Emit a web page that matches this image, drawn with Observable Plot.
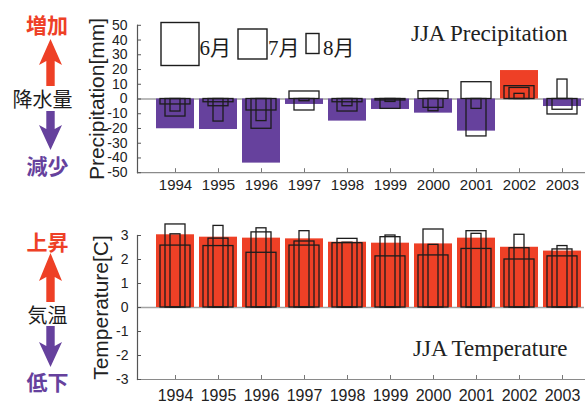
<!DOCTYPE html>
<html>
<head>
<meta charset="utf-8">
<script src="https://cdn.jsdelivr.net/npm/d3@7"></script>
<script src="https://cdn.jsdelivr.net/npm/@observablehq/plot@0.6"></script>
<style>
  body { margin: 0; background: #fff; }
  #chart { position: relative; width: 585px; height: 403px; overflow: hidden; background: #fff; }
  #chart > svg { position: absolute; left: 0; }
</style>
</head>
<body>
<div id="chart"></div>
<script>
// Summer (JJA) anomalies, 1994–2003: seasonal mean as a filled bar,
// June / July / August as nested outline boxes (wide → narrow).
const years = ["1994", "1995", "1996", "1997", "1998", "1999", "2000", "2001", "2002", "2003"];

const precipJJA = [-20.2, -20.7, -43.5, -3.7, -15.0, -7.1, -9.6, -21.8, 19.3, -5.1];
const precipJun = [-3.7, -2.2, -7.8, 5.1, -2.2, -1.0, 5.3, 11.4, 8.7, -10.5];
const precipJul = [-11.9, -4.9, -20.2, -7.8, -8.5, -6.7, -6.0, -25.4, 7.5, -7.3];
const precipAug = [-8.5, -15.3, -15.0, -1.5, -4.9, -2.0, -8.3, -6.7, 3.5, 13.2];

const tempJJA = [3.03, 2.93, 2.89, 2.86, 2.72, 2.68, 2.65, 2.89, 2.51, 2.35];
const tempJun = [2.58, 2.56, 2.28, 2.58, 2.68, 2.13, 2.17, 2.44, 2.00, 2.13];
const tempJul = [3.46, 2.87, 3.13, 2.75, 2.86, 2.93, 3.25, 3.18, 2.47, 2.42];
const tempAug = [3.05, 3.40, 3.30, 3.18, 2.70, 3.00, 2.61, 3.07, 3.03, 2.56];

const precipTicks = [-50, -40, -30, -20, -10, 0, 10, 20, 30, 40, 50];
const tempTicks = [-3, -2, -1, 0, 1, 2, 3];
const monthLabels = ["6月", "7月", "8月"];

const RED = "#ee4026";
const PURPLE = "#66419d";
const INK = "#1c1c1c";
const SANS = "'Liberation Sans', Arial, sans-serif";
const SERIF = "'Liberation Serif', 'Times New Roman', serif";
const CJK = "'Noto Sans CJK JP', 'Noto Sans CJK SC', sans-serif";

function rowsOf(jja, jun, jul, aug) {
  return years.map((year, i) => ({year, jja: jja[i], jun: jun[i], jul: jul[i], aug: aug[i]}));
}

// Band layout shared by both panels
const xScale = {type: "band", domain: years, range: [153.5, 584], paddingInner: 0.12, paddingOuter: 0.06, label: null};

function panel({rows, domain, ticks, height, marginTop, marginBottom, label, labelDx, title, titleAnchor, titleDy, xFont, xPad, yPad}) {
  const outline = (key, inset) => Plot.barY(rows, {
    x: "year", y: key, fill: "none", stroke: INK, strokeWidth: 1.3,
    insetLeft: inset, insetRight: inset
  });
  return Plot.plot({
    width: 585, height,
    marginLeft: 137, marginRight: 1, marginTop, marginBottom,
    style: {fontFamily: SANS, fontSize: "14px", color: "#222", background: "transparent"},
    x: xScale,
    y: {domain, label: null},
    marks: [
      Plot.ruleY([0], {stroke: "#a3a3a3", strokeWidth: 1.4}),
      Plot.barY(rows, {filter: d => d.jja >= 0, x: "year", y: "jja", fill: RED}),
      Plot.barY(rows, {filter: d => d.jja < 0, x: "year", y: "jja", fill: PURPLE}),
      outline("jun", 4),
      outline("jul", 9),
      outline("aug", 14),
      Plot.frame({anchor: "left", stroke: "#555", strokeWidth: 1.2}),
      Plot.frame({anchor: "bottom", stroke: "#8a8a8a", strokeWidth: 1.2}),
      Plot.axisY({ticks, tickFormat: d => String(d), tickSize: -4, tickPadding: yPad, stroke: "#555", fontSize: 14}),
      Plot.axisX({tickSize: -4, tickPadding: xPad, stroke: "#777", fontSize: xFont}),
      Plot.text([label], {
        frameAnchor: "left", rotate: -90, dx: labelDx, text: d => d,
        fontSize: 21, fontFamily: SANS, fill: "#222", textAnchor: "middle", lineAnchor: "middle"
      }),
      Plot.text([title], {
        frameAnchor: titleAnchor, dx: -17, dy: titleDy, text: d => d,
        textAnchor: "end", lineAnchor: "bottom",
        fontSize: 23, fontFamily: SERIF, fill: "#222"
      })
    ]
  });
}

const chart = document.getElementById("chart");

const precipPanel = panel({
  rows: rowsOf(precipJJA, precipJun, precipJul, precipAug),
  domain: [-50, 50], ticks: precipTicks,
  height: 200, marginTop: 24.8, marginBottom: 27.8,
  label: "Precipitation[mm]", labelDx: -40,
  title: "JJA Precipitation", titleAnchor: "top-right", titleDy: 16,
  xFont: 15, xPad: 11, yPad: 14
});
precipPanel.style.top = "0px";
chart.appendChild(precipPanel);

const tempPanel = panel({
  rows: rowsOf(tempJJA, tempJun, tempJul, tempAug),
  domain: [-3, 3], ticks: tempTicks,
  height: 203, marginTop: 35, marginBottom: 24,
  label: "Temperature[C]", labelDx: -36,
  title: "JJA Temperature", titleAnchor: "bottom-right", titleDy: -24,
  xFont: 16, xPad: 14, yPad: 13
});
tempPanel.style.top = "200px";
chart.appendChild(tempPanel);

// Side annotations (increase / decrease arrows) and the month legend
const deco = d3.create("svg")
  .attr("width", 585).attr("height", 403)
  .style("top", "0px").style("pointer-events", "none");

function arrow(cx, tipY, headY, tailY, color) {
  const dir = Math.sign(tailY - tipY);
  const hw = 11.5, sw = 4.2, notch = 4 * dir;
  const pts = [
    [cx, tipY], [cx + hw, headY + notch], [cx + sw, headY], [cx + sw, tailY],
    [cx - sw, tailY], [cx - sw, headY], [cx - hw, headY + notch]
  ];
  deco.append("polygon").attr("points", pts.map(p => p.join(",")).join(" ")).attr("fill", color);
}

function sideLabel(text, x, y, color, size, weight) {
  deco.append("text").attr("x", x).attr("y", y)
    .attr("text-anchor", "middle").attr("dominant-baseline", "central")
    .attr("font-family", CJK).attr("font-size", size).attr("font-weight", weight)
    .attr("fill", color).text(text);
}

sideLabel("増加", 47, 24, RED, 21, 700);
arrow(50.5, 39, 61, 86, RED);
sideLabel("降水量", 42.5, 98, "#1c1c1c", 20, 400);
arrow(50.5, 150, 129, 111, PURPLE);
sideLabel("減少", 47.5, 165, PURPLE, 21, 700);

sideLabel("上昇", 47.5, 241, RED, 21, 700);
arrow(50.5, 253, 277, 302, RED);
sideLabel("気温", 47.5, 314, "#1c1c1c", 20, 400);
arrow(50.5, 367, 346, 326, PURPLE);
sideLabel("低下", 47.5, 381, PURPLE, 21, 700);

const legendBoxes = [
  {x: 161, y: 22.5, w: 38, h: 43, tx: 199.5},
  {x: 238, y: 29, w: 29, h: 30, tx: 268},
  {x: 306, y: 33.5, w: 13, h: 20, tx: 323}
];
legendBoxes.forEach((b, i) => {
  deco.append("rect").attr("x", b.x).attr("y", b.y).attr("width", b.w).attr("height", b.h)
    .attr("fill", "#fff").attr("stroke", INK).attr("stroke-width", 1.4);
  deco.append("text").attr("x", b.tx).attr("y", 54.5)
    .attr("font-family", `${SERIF.split(",")[0]}, ${CJK}`).attr("font-size", 21)
    .attr("fill", "#1c1c1c").text(monthLabels[i]);
});

chart.appendChild(deco.node());
</script>
</body>
</html>
